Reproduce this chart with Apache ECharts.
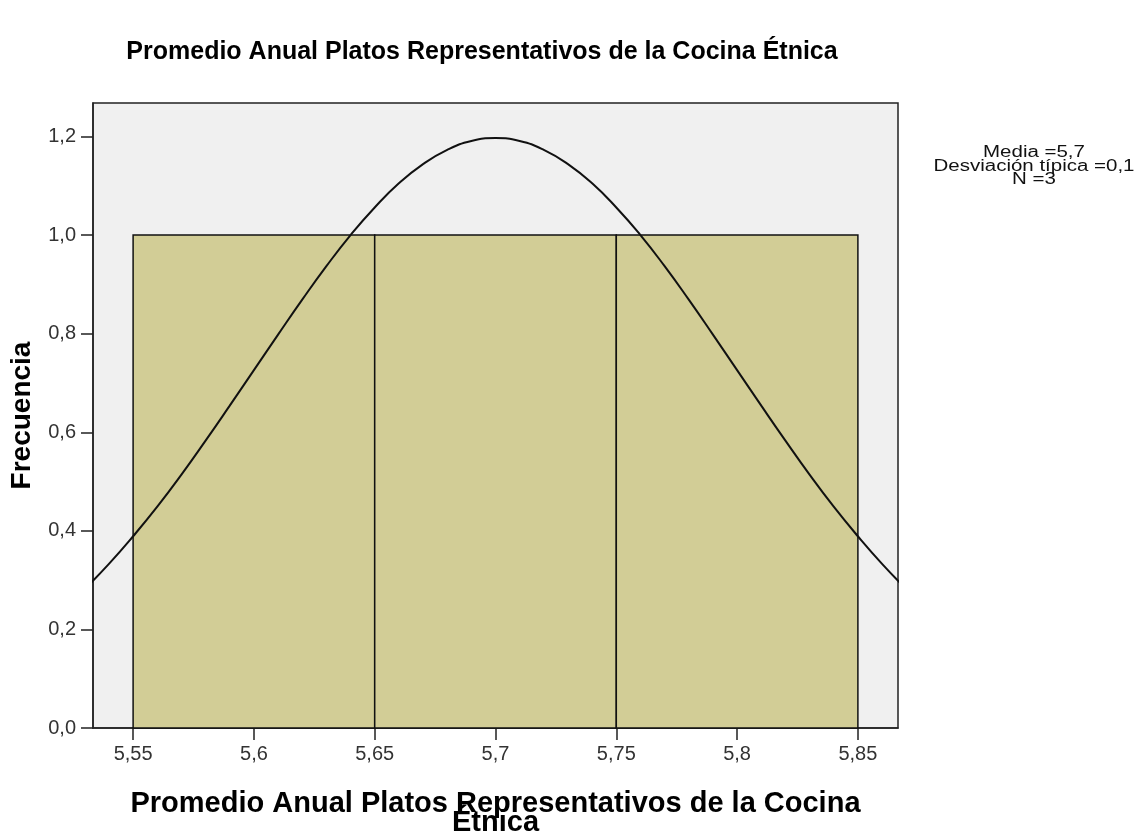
<!DOCTYPE html>
<html>
<head>
<meta charset="utf-8">
<script src="https://cdn.jsdelivr.net/npm/echarts@6/dist/echarts.min.js"></script>
<style>
  html, body { margin: 0; padding: 0; background: #fff; }
  #chart { width: 1147px; height: 837px; }
</style>
</head>
<body>
<div id="chart"></div>
<script>
// Histogram bins: [start, end, frequency]
const binStarts = [5.55, 5.65, 5.75];
const binEnds = [5.65, 5.75, 5.85];
const binCounts = [1, 1, 1];

// Normal curve
const curveX = [5.53, 5.54, 5.55, 5.56, 5.57, 5.58, 5.59, 5.60, 5.61, 5.62, 5.63, 5.64,
    5.65, 5.66, 5.67, 5.68, 5.69, 5.70, 5.71, 5.72, 5.73, 5.74, 5.75, 5.76, 5.77, 5.78,
    5.79, 5.80, 5.81, 5.82, 5.83, 5.84, 5.85, 5.86, 5.87];
const curveY = [0.282, 0.333, 0.389, 0.449, 0.514, 0.583, 0.654, 0.726, 0.798, 0.869, 0.937, 1.000,
    1.056, 1.105, 1.144, 1.173, 1.191, 1.197, 1.191, 1.173, 1.144, 1.105, 1.056, 1.000,
    0.937, 0.869, 0.798, 0.726, 0.654, 0.583, 0.514, 0.449, 0.389, 0.333, 0.282];

const xTicks = [5.55, 5.6, 5.65, 5.7, 5.75, 5.8, 5.85];
const yTicks = [0, 0.2, 0.4, 0.6, 0.8, 1.0, 1.2];

const legendLines = ['Media =5,7', 'Desviación típica =0,1', 'N =3'];

const chartDom = document.getElementById('chart');
const myChart = echarts.init(chartDom);

const font = '"Liberation Sans", Arial, sans-serif';

const option = {
    animation: false,
    backgroundColor: '#ffffff',
    title: {
        text: 'Promedio Anual Platos Representativos de la Cocina Étnica',
        left: 477,
        textAlign: 'center',
        top: 35,
        textStyle: {
            fontFamily: font,
            fontSize: 25,
            fontWeight: 'bold',
            color: '#000'
        }
    },
    // stats box on the right, text is a bit wide in the original
    graphic: [{
        type: 'text',
        x: 1034,
        y: 146,
        scaleX: 1.28,
        style: {
            text: legendLines.join('\n'),
            textAlign: 'center',
            textVerticalAlign: 'top',
            font: '16px ' + font,
            fill: '#111',
            lineHeight: 13.5
        }
    }],
    grid: {
        left: 93,
        top: 103,
        width: 805,
        height: 625,
        outerBoundsMode: 'none',
        show: true,
        backgroundColor: '#f0f0f0',
        borderColor: '#222',
        borderWidth: 1.5
    },
    xAxis: {
        type: 'value',
        min: 5.5334,
        max: 5.8666,
        name: 'Promedio Anual Platos Representativos de la Cocina\nÉtnica',
        nameLocation: 'middle',
        nameGap: 66,
        nameTextStyle: {
            fontFamily: font,
            fontSize: 29,
            fontWeight: 'bold',
            color: '#000',
            lineHeight: 19
        },
        axisLine: { show: true, onZero: false, lineStyle: { color: '#222', width: 1.5 } },
        axisTick: { show: true, length: 12, customValues: xTicks, lineStyle: { color: '#222', width: 1.5 } },
        axisLabel: {
            customValues: xTicks,
            fontFamily: font,
            fontSize: 20,
            color: '#333',
            margin: 16,
            formatter: v => String(+v.toFixed(2)).replace('.', ',')
        },
        splitLine: { show: false }
    },
    yAxis: {
        type: 'value',
        min: 0,
        max: 1.268,
        name: 'Frecuencia',
        nameLocation: 'middle',
        nameGap: 57,
        nameTextStyle: {
            fontFamily: font,
            fontSize: 28,
            fontWeight: 'bold',
            color: '#000'
        },
        axisLine: { show: true, lineStyle: { color: '#222', width: 1.5 } },
        axisTick: { show: true, length: 12, customValues: yTicks, lineStyle: { color: '#222', width: 1.5 } },
        axisLabel: {
            customValues: yTicks,
            fontFamily: font,
            fontSize: 20,
            color: '#333',
            margin: 17,
            formatter: v => v.toFixed(1).replace('.', ',')
        },
        splitLine: { show: false }
    },
    series: [
        {
            name: 'Histograma',
            type: 'custom',
            data: binStarts.map((s, i) => [s, binEnds[i], binCounts[i]]),
            renderItem: function (params, api) {
                const p0 = api.coord([api.value(0), 0]);
                const p1 = api.coord([api.value(1), api.value(2)]);
                return {
                    type: 'rect',
                    shape: { x: p0[0], y: p1[1], width: p1[0] - p0[0], height: p0[1] - p1[1] },
                    style: { fill: '#d2cd96', stroke: '#111', lineWidth: 1.5 }
                };
            },
            z: 2
        },
        {
            name: 'Normal',
            type: 'line',
            data: curveX.map((x, i) => [x, curveY[i]]),
            smooth: true,
            showSymbol: false,
            clip: true,
            lineStyle: { color: '#111', width: 2 },
            z: 3
        }
    ]
};

myChart.setOption(option);
</script>
</body>
</html>
